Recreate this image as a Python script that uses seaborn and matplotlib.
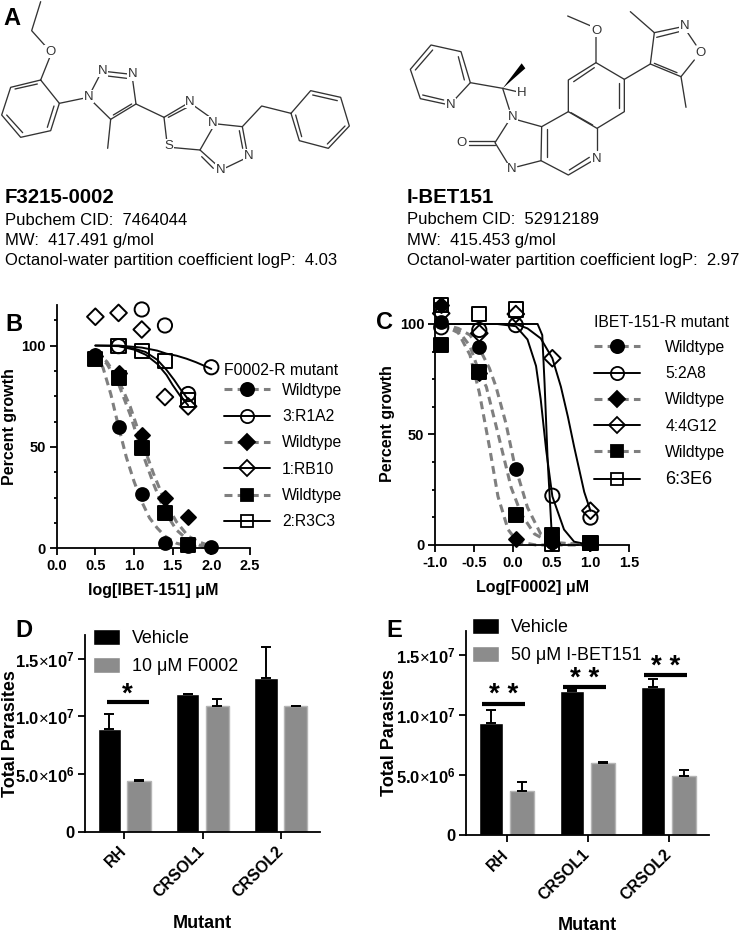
import matplotlib
matplotlib.use("Agg")
import matplotlib.pyplot as plt
import pandas as pd
import seaborn as sns
from matplotlib.lines import Line2D

W, H = 742, 933
GREY = "#7f7f7f"
BAR_GREY = "#8c8c8c"

# ---- panel B: dose response, log[IBET-151]
b_doses = [0.5, 0.8, 1.1, 1.4, 1.7, 2.0]
b_wt_circle = [95.5, 59.6, 26.7, 2.5, 1.2, 0.5]
b_wt_diamond = [94.7, 86.5, 56.0, 24.7, 15.3]
b_wt_square = [93.4, 84.0, 49.4, 17.3, 1.6]
b_r1a2 = [99.7, 117.8, 109.9, 76.1, 89.3]
b_r1a2_x = [0.8, 1.1, 1.4, 1.7, 2.0]
b_rb10 = [114.2, 116.1, 107.9, 74.6, 70.0]
b_r3c3 = [99.7, 97.2, 92.3, 73.3]
b_r3c3_x = [0.8, 1.1, 1.4, 1.7]

# fitted curves
b_fit_wt_circle_x = [0.5, 0.6, 0.7, 0.8, 0.9, 1.0, 1.1, 1.2, 1.3, 1.4, 1.55, 1.7, 2.0]
b_fit_wt_circle_y = [96, 89, 76, 60, 45, 33, 23, 15, 10, 6, 2.5, 1, 0.2]
b_fit_wt_diamond_x = [0.5, 0.65, 0.8, 0.95, 1.1, 1.25, 1.4, 1.55, 1.7, 1.85, 2.0]
b_fit_wt_diamond_y = [97, 92, 83, 70, 53, 37, 23, 13, 6, 3, 1]
b_fit_wt_square_x = [0.5, 0.65, 0.8, 0.95, 1.1, 1.25, 1.4, 1.55, 1.7, 1.85, 2.0]
b_fit_wt_square_y = [96, 91, 81, 66, 48, 32, 18, 9, 4, 1.5, 0.5]
b_fit_r1a2_x = [0.5, 0.8, 1.1, 1.3, 1.42, 1.55, 1.68, 1.8, 1.94, 2.0]
b_fit_r1a2_y = [100, 100, 99, 97.5, 96, 95, 93.5, 91.8, 89.5, 88.5]
b_fit_rb10_x = [0.5, 0.8, 1.0, 1.15, 1.3, 1.42, 1.5, 1.6, 1.7]
b_fit_rb10_y = [100, 99.7, 98, 95.5, 91, 85.5, 80.5, 75, 70.5]
b_fit_r3c3_x = [0.8, 1.0, 1.15, 1.3, 1.42, 1.52, 1.6, 1.7]
b_fit_r3c3_y = [99.8, 98.5, 96.8, 93, 88, 83, 78.5, 73.5]

# ---- panel C: dose response, Log[F0002]
c_doses = [-0.92, -0.43, 0.04, 0.51, 1.0]
c_wt_circle = [101, 89.4, 34.5, 1.5, 0.8]
c_wt_diamond = [108.6, 77.7, 2.7, 0.8, 0.8]
c_wt_square = [90.5, 78.3, 13.6, 4.5, 1.0]
c_2a8 = [98.5, 97.3, 99.5, 22.3, 12.4]
c_4g12 = [104.8, 95.8, 104.5, 84.5, 15.5]
c_3e6 = [108.6, 104.5, 106.6, 0.5, 1.0]

c_fit_wt_circle_x = [-0.92, -0.7, -0.55, -0.43, -0.3, -0.215, -0.087, 0.02, 0.19, 0.36, 0.58, 1.0]
c_fit_wt_circle_y = [100, 98, 95, 89, 80, 71.6, 55, 37, 17, 5, 1, 0]
c_fit_wt_square_x = [-0.92, -0.7, -0.55, -0.43, -0.34, -0.19, -0.02, 0.11, 0.28, 0.49, 1.0]
c_fit_wt_square_y = [100, 97, 90, 78, 71.6, 50.5, 26, 14, 5, 1, 0]
c_fit_wt_diamond_x = [-0.92, -0.7, -0.55, -0.43, -0.3, -0.19, -0.06, 0.06, 0.3, 1.0]
c_fit_wt_diamond_y = [100, 96, 86, 69, 44.5, 22, 7, 1.5, 0, 0]
c_fit_2a8_x = [-0.92, -0.2, 0.04, 0.19, 0.3, 0.36, 0.43, 0.51, 0.66, 0.79, 1.0]
c_fit_2a8_y = [100, 100, 99, 93, 81, 66, 43, 22, 7, 1.5, 0]
c_fit_4g12_x = [-0.92, 0.04, 0.19, 0.36, 0.51, 0.62, 0.71, 0.79, 0.92, 1.0]
c_fit_4g12_y = [100, 100, 98, 93.5, 84.5, 71.6, 58, 44.5, 24, 15.5]
c_fit_3e6_x = [-0.92, 0.2, 0.32, 0.38, 0.41, 0.45, 0.51]
c_fit_3e6_y = [100, 100, 100, 95, 73, 38, 0]

# ---- panels D and E: bars
mutants = ["RH", "CRSOL1", "CRSOL2"]
d_vehicle = [8.93e6, 11.97e6, 13.32e6]
d_vehicle_top = [10.23e6, 11.97e6, 16.04e6]
d_drug = [4.36e6, 10.92e6, 10.87e6]
d_drug_top = [4.45e6, 11.5e6, 10.9e6]
d_sig_y = [11.2e6]
d_sig_labels = ["*"]
e_vehicle = [9.36e6, 12.03e6, 12.37e6]
e_vehicle_top = [10.45e6, 12.1e6, 13.0e6]
e_drug = [3.65e6, 5.99e6, 4.93e6]
e_drug_top = [4.4e6, 6.13e6, 5.46e6]
e_sig_y = [10.97e6, 12.33e6, 13.33e6]
e_sig_labels = ["* *", "* *", "* *"]
bar_ticks = [0, 5e6, 1e7, 1.5e7]
bar_ticklabels = ["0", r"$\mathbf{5.0}{\times}\mathbf{10^{6}}$",
                  r"$\mathbf{1.0}{\times}\mathbf{10^{7}}$", r"$\mathbf{1.5}{\times}\mathbf{10^{7}}$"]

# ---- panel A: compound text
left_info = ["Pubchem CID:  7464044", "MW:  417.491 g/mol",
             "Octanol-water partition coefficient logP:  4.03"]
right_info = ["Pubchem CID:  52912189", "MW:  415.453 g/mol",
              "Octanol-water partition coefficient logP:  2.97"]

# structure drawings, in crop pixels (3x), as polylines
left_bonds = [
    [(122, 5), (95, 92), (138, 140)], [(150, 170), (122, 240)],
    [(122, 240), (178, 310), (152, 392), (62, 412), (5, 345), (32, 262), (122, 240)],
    [(112, 252), (45, 267)], [(162, 318), (142, 382)], [(68, 398), (20, 345)],
    [(178, 310), (250, 295)],
    [(272, 278), (298, 228)], [(322, 215), (385, 222)], [(322, 228), (380, 235)],
    [(398, 240), (408, 312), (332, 358), (278, 305)], [(395, 312), (340, 345)],
    [(332, 358), (323, 445)], [(408, 312), (492, 352)],
    [(492, 352), (558, 313)], [(505, 352), (560, 323)], [(583, 318), (628, 350)],
    [(640, 380), (600, 450), (522, 443)], [(500, 420), (492, 352)],
    [(652, 372), (727, 380), (740, 450)], [(718, 392), (728, 445)], [(730, 478), (678, 503)],
    [(650, 495), (600, 450)], [(640, 505), (605, 470)],
    [(727, 380), (785, 318), (873, 340)],
    [(873, 340), (932, 272), (1022, 292), (1048, 378), (985, 445), (898, 422), (873, 340)],
    [(938, 285), (1012, 302)], [(1035, 378), (982, 432)], [(905, 410), (887, 345)],
]
left_atoms = [(150, 155, "O"), (265, 290, "N"), (308, 212, "N"), (398, 222, "N"), (570, 305, "N"),
              (638, 368, "N"), (508, 438, "S"), (745, 468, "N"), (662, 510, "N")]
right_bonds = [
    [(250, 300), (298, 248), (270, 155), (180, 135), (118, 208), (148, 296), (222, 312)],
    [(280, 240), (262, 170)], [(185, 150), (133, 210)], [(155, 285), (218, 300)],
    [(298, 248), (395, 265), (438, 275)], [(395, 265), (415, 328)],
    [(440, 360), (512, 380)], [(412, 365), (372, 428), (410, 490)],
    [(372, 422), (295, 422)], [(372, 435), (295, 435)],
    [(440, 500), (510, 482), (512, 380), (592, 335), (592, 240), (675, 188), (675, 110)],
    [(527, 470), (527, 388)], [(608, 245), (670, 203)], [(660, 78), (590, 48)],
    [(675, 188), (760, 238), (760, 335), (678, 385), (592, 335)],
    [(745, 248), (745, 325)], [(665, 375), (600, 338)],
    [(678, 385), (678, 450)], [(660, 485), (592, 525), (510, 482)], [(655, 472), (595, 510)],
    [(760, 238), (838, 192), (850, 98), (925, 82)], [(857, 112), (925, 95)],
    [(948, 95), (975, 135)], [(970, 180), (930, 230), (838, 192)], [(918, 218), (850, 190)],
    [(850, 98), (778, 35)], [(930, 230), (945, 322)],
]
right_wedge = [(395, 265), (452, 190), (463, 205)]
right_atoms = [(238, 315, "N"), (452, 278, "H"), (425, 350, "N"), (272, 428, "O"), (422, 508, "N"),
               (677, 478, "N"), (675, 92, "O"), (940, 78, "N"), (988, 160, "O")]

sns.set_theme(style="ticks")
plt.rcParams["font.family"] = ["Liberation Sans", "DejaVu Sans"]
plt.rcParams["mathtext.fontset"] = "custom"
plt.rcParams["mathtext.rm"] = "Liberation Sans"
plt.rcParams["mathtext.bf"] = "Liberation Sans:bold"
plt.rcParams["axes.linewidth"] = 1.3
plt.rcParams["text.color"] = "black"
plt.rcParams["axes.labelcolor"] = "black"
plt.rcParams["axes.edgecolor"] = "black"
plt.rcParams["xtick.color"] = "black"
plt.rcParams["ytick.color"] = "black"

fig = plt.figure(figsize=(W / 100, H / 100), dpi=100)


def axes_px(left, top, right, bottom):
    return fig.add_axes([left / W, 1 - bottom / H, (right - left) / W, (bottom - top) / H])


# backdrop in pixel coordinates, for the panel letters, text and structures
bg = fig.add_axes([0, 0, 1, 1])
bg.set_xlim(0, W)
bg.set_ylim(H, 0)
bg.axis("off")
bg.patch.set_alpha(0)

for letter, x, y in [("A", 3, 25), ("B", 5, 331), ("C", 376, 329), ("D", 15, 637), ("E", 386, 637)]:
    bg.text(x, y, letter, fontsize=17, fontweight="bold", color="black", va="baseline")


def draw_structure(bonds, atoms, dx):
    for bond in bonds:
        bg.plot([p[0] / 3 + dx for p in bond], [p[1] / 3 for p in bond],
                color="#333333", lw=0.95, solid_capstyle="round")
    for ax_, ay, label in atoms:
        bg.text(ax_ / 3 + dx, ay / 3, label, fontsize=9.5, color="#333333", ha="center", va="center",
                bbox=dict(facecolor="white", edgecolor="none", pad=0.4))


draw_structure(left_bonds, left_atoms, 0)
draw_structure(right_bonds, right_atoms, 371)
bg.fill([p[0] / 3 + 371 for p in right_wedge], [p[1] / 3 for p in right_wedge], color="black", lw=0)

bg.text(5, 203, "F3215-0002", fontsize=14.7, fontweight="bold", va="baseline")
bg.text(407, 203, "I-BET151", fontsize=14.7, fontweight="bold", va="baseline")
for txt, y in zip(left_info, [225, 245, 265.5]):
    bg.text(5, y, txt, fontsize=12, va="baseline")
for txt, y in zip(right_info, [224, 245, 265]):
    bg.text(407, y, txt, fontsize=12, va="baseline")


def draw_curve(ax, x, y, dashed):
    sns.lineplot(x=x, y=y, ax=ax, estimator=None, sort=False, legend=False,
                 color=GREY if dashed else "black", linewidth=2.2 if dashed else 1.4)
    line = ax.lines[-1]
    if dashed:
        line.set_dashes((2.6, 1.7))
    line.set_clip_on(False)


def draw_points(ax, x, y, marker, size, filled):
    sns.scatterplot(x=x, y=y, ax=ax, marker=marker, s=size, color="black", legend=False,
                    clip_on=False, zorder=5, linewidth=1.4, edgecolor="black")
    pts = ax.collections[-1]
    if not filled:
        pts.set_facecolor("none")


def style_axis(ax, xlabel, ylabel):
    sns.despine(ax=ax)
    ax.patch.set_alpha(0)
    ax.set_xlabel(xlabel, fontsize=11.5, fontweight="bold", labelpad=7)
    ax.set_ylabel(ylabel, fontsize=11.5, fontweight="bold", labelpad=3)
    ax.tick_params(axis="both", which="major", length=4.8, width=1.3, labelsize=10.5, pad=3)
    ax.tick_params(axis="both", which="minor", length=2.2, width=1.3)
    for lab in ax.get_xticklabels() + ax.get_yticklabels():
        lab.set_fontweight("bold")


def dose_legend(ax, title, names, px, py, handlelen, textpad, spacing, title_sep):
    styles = [("o", True), ("o", False), ("D", True), ("D", False), ("s", True), ("s", False)]
    handles = []
    for marker, dashed in styles:
        msize = 9.5 if marker == "o" else (8 if marker == "D" else 9.2)
        handles.append(Line2D([], [], color=GREY if dashed else "black", lw=2.2 if dashed else 1.4,
                              ls=(0, (2.6, 1.7)) if dashed else "-", marker=marker, ms=msize,
                              mfc="black" if dashed else "none", mec="black", mew=1.3))
    leg = ax.legend(handles, names, title=title, loc="upper left", bbox_to_anchor=(px / W, 1 - py / H),
                    bbox_transform=fig.transFigure, frameon=False, fontsize=11.3, title_fontsize=11.3,
                    handlelength=handlelen, handletextpad=textpad, labelspacing=spacing,
                    numpoints=1, borderpad=0, borderaxespad=0, alignment="left")
    leg._legend_box.sep = title_sep
    return leg


# ---- panel B
ax_b = axes_px(56.7, 305, 250, 548.3)
draw_curve(ax_b, b_fit_wt_circle_x, b_fit_wt_circle_y, True)
draw_curve(ax_b, b_fit_wt_diamond_x, b_fit_wt_diamond_y, True)
draw_curve(ax_b, b_fit_wt_square_x, b_fit_wt_square_y, True)
draw_curve(ax_b, b_fit_r1a2_x, b_fit_r1a2_y, False)
draw_curve(ax_b, b_fit_rb10_x, b_fit_rb10_y, False)
draw_curve(ax_b, b_fit_r3c3_x, b_fit_r3c3_y, False)
draw_points(ax_b, b_doses, b_wt_circle, "o", 85, True)
draw_points(ax_b, b_doses[:5], b_wt_diamond, "D", 58, True)
draw_points(ax_b, b_doses[:5], b_wt_square, "s", 90, True)
draw_points(ax_b, b_r1a2_x, b_r1a2, "o", 105, False)
draw_points(ax_b, b_doses[:5], b_rb10, "D", 72, False)
draw_points(ax_b, b_r3c3_x, b_r3c3, "s", 105, False)
ax_b.set_xlim(0, 2.5)
ax_b.set_ylim(0, 120)
ax_b.set_xticks([0, 0.5, 1.0, 1.5, 2.0, 2.5], ["0.0", "0.5", "1.0", "1.5", "2.0", "2.5"])
ax_b.set_yticks([0, 50, 100], ["0", "50", "100"])
ax_b.set_yticks([12.5, 25, 37.5, 62.5, 75, 87.5, 112.5], minor=True)
style_axis(ax_b, "log[IBET-151] μM", "Percent growth")
dose_legend(ax_b, "F0002-R mutant", ["Wildtype", "3:R1A2", "Wildtype", "1:RB10", "Wildtype", "2:R3C3"],
            224, 363, 2.95, 0.75, 0.72, 3.5)

# ---- panel C
ax_c = axes_px(435, 303, 629.3, 545)
draw_curve(ax_c, c_fit_wt_circle_x, c_fit_wt_circle_y, True)
draw_curve(ax_c, c_fit_wt_square_x, c_fit_wt_square_y, True)
draw_curve(ax_c, c_fit_wt_diamond_x, c_fit_wt_diamond_y, True)
draw_curve(ax_c, c_fit_2a8_x, c_fit_2a8_y, False)
draw_curve(ax_c, c_fit_4g12_x, c_fit_4g12_y, False)
draw_curve(ax_c, c_fit_3e6_x, c_fit_3e6_y, False)
draw_points(ax_c, c_doses, c_2a8, "o", 105, False)
draw_points(ax_c, c_doses, c_4g12, "D", 72, False)
draw_points(ax_c, c_doses, c_3e6, "s", 105, False)
draw_points(ax_c, c_doses, c_wt_circle, "o", 85, True)
draw_points(ax_c, c_doses, c_wt_diamond, "D", 58, True)
draw_points(ax_c, c_doses, c_wt_square, "s", 90, True)
ax_c.set_xlim(-1, 1.5)
ax_c.set_ylim(0, 109.5)
ax_c.set_xticks([-1, -0.5, 0, 0.5, 1.0, 1.5], ["-1.0", "-0.5", "0.0", "0.5", "1.0", "1.5"])
ax_c.set_yticks([0, 50, 100], ["0", "50", "100"])
ax_c.set_yticks([12.5, 25, 37.5, 62.5, 75, 87.5], minor=True)
style_axis(ax_c, "Log[F0002] μM", "Percent growth")
leg_c = dose_legend(ax_c, "IBET-151-R mutant", ["Wildtype", "5:2A8", "Wildtype", "4:4G12", "Wildtype", "6:3E6"],
                    594, 315, 2.95, 1.6, 0.72, 7)
leg_c.get_texts()[5].set_fontsize(13)


def draw_bars(ax, vehicle, vehicle_top, drug, drug_top, drug_name, sig_y, sig_labels, sig_groups, sig_dx,
              legend_px, ylab_x, xlab_px):
    df = pd.DataFrame({"mutant": mutants * 2, "total": vehicle + drug,
                       "treatment": ["Vehicle"] * 3 + [drug_name] * 3})
    sns.barplot(data=df, x="mutant", y="total", hue="treatment", palette=["black", BAR_GREY],
                width=0.76, gap=0.22, errorbar=None, ax=ax, linewidth=1, saturation=1)
    for bar in ax.containers[1]:
        bar.set_edgecolor("#b5b5b5")
    for container, heights, tops in zip(ax.containers, [vehicle, drug], [vehicle_top, drug_top]):
        centers = [b.get_x() + b.get_width() / 2 for b in container]
        ax.errorbar(centers, heights, yerr=[[0] * 3, [t - h for t, h in zip(tops, heights)]], fmt="none",
                    ecolor="black", elinewidth=1.4, capsize=3.6, capthick=1.4, zorder=4)
    for group, y, label in zip(sig_groups, sig_y, sig_labels):
        ax.plot([group + sig_dx[0], group + sig_dx[1]], [y, y], color="black", lw=3, solid_capstyle="butt",
                clip_on=False, zorder=6)
        ax.text(group + sum(sig_dx) / 2, y + 0.7e6, label, fontsize=20, fontweight="bold", ha="center",
                va="center", zorder=6)
    ax.set_xlim(-0.5, 2.5)
    ax.set_ylim(0, 1.705e7)
    ax.set_yticks(bar_ticks, bar_ticklabels)
    style_axis(ax, "Mutant", "Total Parasites")
    ax.xaxis.label.set_fontsize(13)
    ax.yaxis.label.set_fontsize(13)
    ax.xaxis.label.set_va("center")
    ax.yaxis.label.set_va("center")
    ax.xaxis.set_label_coords(0.5, -xlab_px / ax.get_window_extent().height)
    ax.yaxis.set_label_coords(ylab_x, 0.5)
    ax.tick_params(axis="y", labelsize=12)
    ax.tick_params(axis="x", labelsize=11.5, pad=7.5)
    plt.setp(ax.get_xticklabels(), rotation=45, ha="right", va="center", rotation_mode="anchor", fontweight="bold")
    plt.setp(ax.get_yticklabels(), fontweight="bold")
    handles, labels = ax.get_legend_handles_labels()
    ax.legend(handles, labels, loc="upper left", bbox_to_anchor=(legend_px[0] / W, 1 - legend_px[1] / H),
              bbox_transform=fig.transFigure, frameon=False, fontsize=12.9, handlelength=1.5, handleheight=1.02,
              handletextpad=0.7, labelspacing=0.55, borderpad=0, borderaxespad=0)


# ---- panel D
ax_d = axes_px(85, 635, 320, 831.7)
draw_bars(ax_d, d_vehicle, d_vehicle_top, d_drug, d_drug_top, "10 μM F0002",
          d_sig_y, d_sig_labels, [0], (-0.222, 0.312), (93, 629), -74 / 235, 92)

# ---- panel E
ax_e = axes_px(466, 630.7, 709.3, 835)
draw_bars(ax_e, e_vehicle, e_vehicle_top, e_drug, e_drug_top, "50 μM I-BET151",
          e_sig_y, e_sig_labels, [0, 1, 2], (-0.3, 0.225), (472, 618), -77 / 243.3, 90)

fig.savefig("out.png", dpi=100)
print("Saved out.png")
